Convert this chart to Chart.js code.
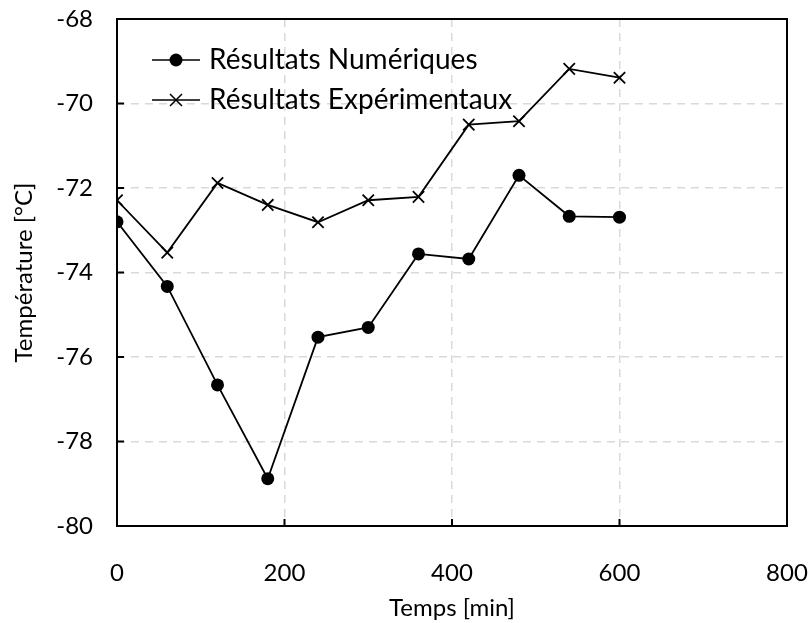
<!DOCTYPE html>
<html>
<head>
<meta charset="utf-8">
<script src="https://cdn.jsdelivr.net/npm/chart.js@4/dist/chart.umd.min.js"></script>
<style>
  html, body { margin: 0; padding: 0; background: #fff; }
  #wrap { width: 811px; height: 623px; }
</style>
</head>
<body>
<div id="wrap"><canvas id="c" width="811" height="623"></canvas></div>
<script>
const temps = [0, 60, 120, 180, 240, 300, 360, 420, 480, 540, 600]
const numeriques = [-72.8, -74.33, -76.66, -78.88, -75.53, -75.3, -73.56, -73.68, -71.7, -72.67, -72.69]
const experimentaux = [-72.29, -73.53, -71.88, -72.4, -72.81, -72.29, -72.21, -70.5, -70.42, -69.18, -69.39]
const seriesNames = ['Résultats Numériques', 'Résultats Expérimentaux']

const FONT = 'Lato, "Open Sans", sans-serif'

const toPoints = vals => temps.map((t, i) => ({ x: t, y: vals[i] }))

// frame, inner tick marks and legend inside the plot
const framePlugin = {
  id: 'frame',
  afterDraw (chart) {
    const { ctx, chartArea: a, scales } = chart
    ctx.save()
    ctx.strokeStyle = '#000'
    ctx.lineWidth = 2
    ctx.strokeRect(a.left, a.top, a.right - a.left, a.bottom - a.top)
    ctx.beginPath()
    scales.x.ticks.forEach(t => {
      const px = scales.x.getPixelForValue(t.value)
      ctx.moveTo(px, a.bottom)
      ctx.lineTo(px, a.bottom - 7)
    })
    scales.y.ticks.forEach(t => {
      const py = scales.y.getPixelForValue(t.value)
      ctx.moveTo(a.left, py)
      ctx.lineTo(a.left + 7, py)
    })
    ctx.stroke()

    // legend
    ctx.font = '28px ' + FONT
    ctx.textBaseline = 'middle'
    ctx.fillStyle = '#000'
    const rows = [60, 100]
    rows.forEach((y, i) => {
      ctx.lineWidth = 1.5
      ctx.beginPath()
      ctx.moveTo(152, y)
      ctx.lineTo(200, y)
      ctx.stroke()
      if (i === 0) {
        ctx.beginPath()
        ctx.arc(176, y, 6.5, 0, Math.PI * 2)
        ctx.fill()
      } else {
        ctx.beginPath()
        ctx.moveTo(170, y - 6); ctx.lineTo(182, y + 6)
        ctx.moveTo(182, y - 6); ctx.lineTo(170, y + 6)
        ctx.stroke()
      }
      ctx.fillText(seriesNames[i], 209, y)
    })
    ctx.restore()
  }
}

new Chart(document.getElementById('c'), {
  type: 'line',
  data: {
    datasets: [
      {
        label: seriesNames[0],
        data: toPoints(numeriques),
        borderColor: '#000',
        backgroundColor: '#000',
        borderWidth: 1.8,
        pointStyle: 'circle',
        pointRadius: 6.5,
        pointBorderWidth: 0,
        tension: 0
      },
      {
        label: seriesNames[1],
        data: toPoints(experimentaux),
        borderColor: '#000',
        backgroundColor: '#000',
        borderWidth: 1.8,
        pointStyle: 'crossRot',
        pointRadius: 8,
        pointBorderWidth: 1.8,
        tension: 0
      }
    ]
  },
  options: {
    responsive: false,
    animation: false,
    layout: { padding: { top: 19, right: 24, left: 0, bottom: 0 } },
    plugins: {
      legend: { display: false },
      tooltip: { enabled: false }
    },
    scales: {
      x: {
        type: 'linear',
        min: 0,
        max: 800,
        ticks: { stepSize: 200, color: '#000', font: { size: 24, family: FONT }, padding: 33, maxRotation: 0 },
        grid: { color: '#d9d9d9', lineWidth: 1.5, drawTicks: false },
        border: { display: false, dash: [8, 6] },
        title: { display: true, text: 'Temps [min]', color: '#000', font: { size: 24, family: FONT }, padding: { top: 4, bottom: 0 } },
        afterFit (s) {
          s.height = 97
          s.paddingLeft = 0
          s.paddingRight = 0
        }
      },
      y: {
        min: -80,
        max: -68,
        ticks: { stepSize: 2, color: '#000', font: { size: 24, family: FONT }, padding: 24 },
        grid: { color: '#d9d9d9', lineWidth: 1.5, drawTicks: false },
        border: { display: false, dash: [8, 6] },
        title: { display: true, text: 'Température [°C]', color: '#000', font: { size: 24, family: FONT }, padding: { top: 10, bottom: 4 } },
        afterFit (s) {
          s.width = 117
          s.paddingTop = 0
          s.paddingBottom = 0
        }
      }
    }
  },
  plugins: [framePlugin]
})
</script>
</body>
</html>
